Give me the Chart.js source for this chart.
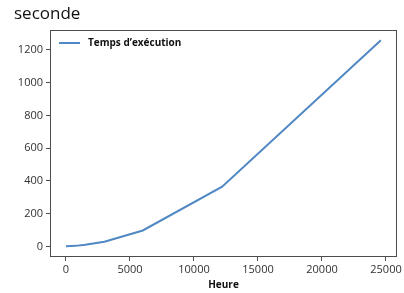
<!DOCTYPE html>
<html>
<head>
<meta charset="utf-8">
<script src="https://cdn.jsdelivr.net/npm/chart.js@4"></script>
<style>
  html,body{margin:0;padding:0;background:#fff;}
  #wrap{width:404px;height:293px;}
</style>
</head>
<body>
<div id="wrap"><canvas id="graphique"></canvas></div>
<script>
// valeurs
const heures = [0, 750, 1500, 3000, 6000, 12200, 24600];
const secondes = [0, 3, 10, 28, 97, 365, 1260];
const serieLabel = "Temps d’exécution";
const ticksX = [0, 5000, 10000, 15000, 20000, 25000];
const ticksY = [0, 200, 400, 600, 800, 1000, 1200];

const police = "'Open Sans', 'Liberation Sans', sans-serif";

// cadre complet + légende dans la zone de tracé
const cadreLegende = {
  id: 'cadreLegende',
  afterDraw(chart){
    const {ctx, chartArea:a} = chart;
    ctx.save();
    ctx.strokeStyle = '#4d4d4d';
    ctx.lineWidth = 1;
    ctx.strokeRect(a.left + 0.5, a.top + 0.5, a.right - a.left - 1, a.bottom - a.top - 1);
    const ds = chart.data.datasets[0];
    const y = a.top + 13;
    ctx.strokeStyle = ds.borderColor;
    ctx.lineWidth = 2;
    ctx.beginPath();
    ctx.moveTo(a.left + 9, y);
    ctx.lineTo(a.left + 30, y);
    ctx.stroke();
    ctx.fillStyle = '#111';
    ctx.font = "bold 10px " + police;
    ctx.textBaseline = 'middle';
    ctx.fillText(ds.label, a.left + 38, y);
    ctx.restore();
  }
};

const ctx = document.getElementById("graphique").getContext("2d");
new Chart(ctx, {
  type: 'scatter',
  data: {
    datasets: [{
      label: serieLabel,
      data: heures.map((h, i) => ({x: h, y: secondes[i]})),
      showLine: true,
      borderColor: '#5088c4',
      borderWidth: 2,
      pointRadius: 0,
      fill: false,
      tension: 0
    }]
  },
  options: {
    responsive: true,
    maintainAspectRatio: false,
    animation: false,
    layout: {padding: {left: 14, right: 7, top: 0, bottom: 2}},
    plugins: {
      legend: {display: false},
      tooltip: {enabled: false},
      title: {
        display: true,
        text: 'seconde',
        align: 'start',
        color: '#111',
        font: {family: police, size: 17, weight: 'normal'},
        padding: {top: 4, bottom: 5.6}
      }
    },
    scales: {
      x: {
        type: 'linear',
        min: -1250,
        max: 25860,
        border: {display: false},
        grid: {drawOnChartArea: false, drawTicks: true, tickLength: 4, color: '#4d4d4d'},
        ticks: {color: '#333', padding: 2, font: {family: police, size: 11}, maxRotation: 0,
                callback: v => String(v)},
        afterBuildTicks(s){ s.ticks = ticksX.map(v => ({value: v})); },
        title: {display: true, text: 'Heure', color: '#111',
                font: {family: police, size: 10, weight: 'bold'}, padding: {top: 2, bottom: 0}},
        afterFit(s){ s.height = 34; }
      },
      y: {
        min: -65,
        max: 1322,
        border: {display: false},
        grid: {drawOnChartArea: false, drawTicks: true, tickLength: 4, color: '#4d4d4d'},
        ticks: {color: '#333', padding: 3, font: {family: police, size: 11},
                callback: v => String(v)},
        afterBuildTicks(s){ s.ticks = ticksY.map(v => ({value: v})); },
        afterFit(s){ s.width = 36; }
      }
    }
  },
  plugins: [cadreLegende]
});
</script>
</body>
</html>
